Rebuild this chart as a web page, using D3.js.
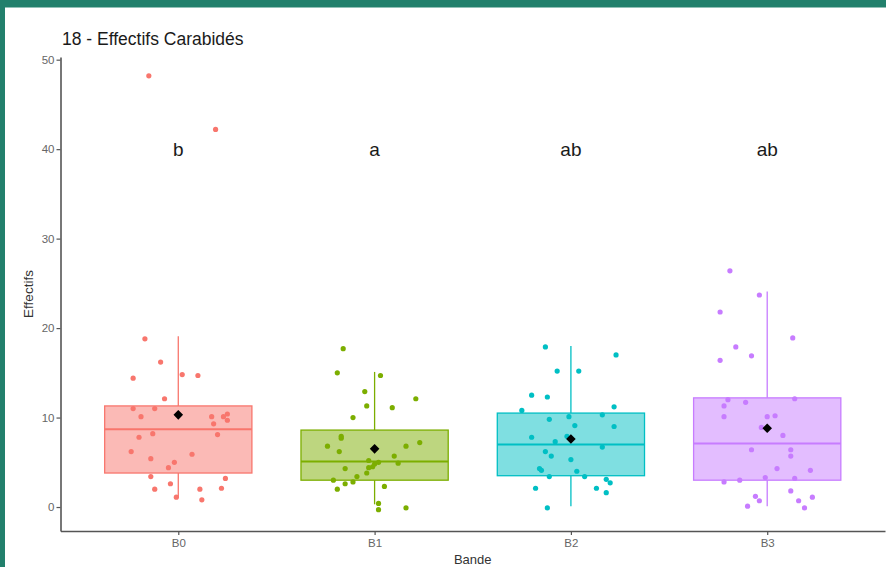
<!DOCTYPE html>
<html>
<head>
<meta charset="utf-8">
<script src="https://cdn.jsdelivr.net/npm/d3@7"></script>
<style>
  html, body { margin: 0; padding: 0; background: #22806c; }
  svg { display: block; }
  text { font-family: "Liberation Sans", Arial, sans-serif; }
</style>
</head>
<body>
<svg id="chart" width="886" height="567"></svg>
<script>
// ---------- DATA ----------
const categories = ["B0", "B1", "B2", "B3"];
const colors = ["#F8766D", "#7CAE00", "#00BFC4", "#C77CFF"];
const letters = ["b", "a", "ab", "ab"];
const letterY = 40;
const q1 = [3.8, 3.0, 3.5, 3.0];
const medians = [8.7, 5.1, 7.0, 7.1];
const q3 = [11.3, 8.6, 10.5, 12.2];
const whiskerLow = [1.0, 0.3, 0.1, 0.1];
const whiskerHigh = [19.1, 15.1, 18.0, 24.1];
const means = [10.3, 6.5, 7.6, 8.8];
const yTicks = [0, 10, 20, 30, 40, 50];
// jittered observations: [jitter offset (category units), value]
const pointsB0 = [[-0.17,18.8],[-0.09,16.2],[-0.23,14.4],[0.02,14.8],[0.10,14.7],[-0.07,12.1],[-0.23,11.0],[-0.12,11.0],[-0.19,10.1],[0.17,10.1],[0.25,10.4],[0.23,10.1],[0.25,9.7],[0.18,9.3],[-0.13,8.2],[-0.20,7.8],[0.20,8.1],[-0.24,6.2],[-0.14,5.4],[0.07,5.9],[-0.02,5.0],[-0.05,4.4],[-0.14,3.4],[0.24,3.2],[-0.04,2.6],[-0.12,2.0],[0.22,2.1],[0.11,2.0],[-0.01,1.1],[0.12,0.8],[-0.15,48.2],[0.19,42.2]];
const pointsB1 = [[-0.16,17.7],[-0.19,15.0],[0.03,14.7],[-0.05,12.9],[0.21,12.1],[-0.04,11.3],[0.09,11.1],[-0.11,10.0],[-0.17,7.9],[-0.17,7.7],[-0.24,6.8],[-0.18,6.2],[0.16,6.8],[0.23,7.2],[0.10,5.7],[-0.03,5.2],[0.02,5.0],[0.00,4.8],[0.12,4.9],[-0.15,4.3],[-0.01,4.5],[-0.03,4.4],[-0.04,3.8],[-0.09,3.4],[-0.21,3.0],[-0.11,2.8],[-0.15,2.6],[-0.19,2.0],[0.05,2.3],[0.02,0.4],[0.02,-0.3],[0.16,-0.1]];
const pointsB2 = [[-0.13,17.9],[0.23,17.0],[-0.07,15.2],[0.04,15.2],[-0.20,12.5],[-0.12,12.3],[-0.25,10.8],[0.22,11.2],[-0.11,9.8],[-0.01,10.1],[0.16,10.3],[0.02,9.1],[0.22,9.0],[-0.20,7.8],[-0.08,7.3],[-0.02,7.9],[0.16,6.7],[-0.13,6.2],[-0.10,5.7],[0.00,5.3],[-0.16,4.3],[-0.15,4.1],[0.03,4.0],[-0.11,3.4],[0.07,3.4],[0.18,3.1],[0.20,2.7],[-0.18,2.1],[0.13,2.1],[0.18,1.6],[-0.12,-0.1]];
const pointsB3 = [[-0.19,26.4],[-0.04,23.7],[-0.24,21.8],[0.13,18.9],[-0.16,17.9],[-0.24,16.4],[-0.08,16.9],[-0.20,12.0],[0.14,12.1],[-0.22,11.3],[-0.11,11.7],[-0.22,10.1],[0.00,10.1],[0.04,10.2],[-0.03,8.9],[0.08,8.0],[-0.08,6.4],[0.12,6.4],[0.12,5.7],[0.05,4.3],[0.22,4.1],[-0.01,3.3],[0.14,3.2],[-0.22,2.8],[-0.14,3.0],[0.12,1.8],[-0.06,1.2],[-0.04,0.7],[0.16,0.7],[0.23,1.1],[-0.10,0.1],[0.19,-0.1]];
const points = [pointsB0, pointsB1, pointsB2, pointsB3];

// ---------- LAYOUT ----------
const svg = d3.select("#chart");
svg.append("rect").attr("x", 5).attr("y", 7.5).attr("width", 881).attr("height", 560).attr("fill", "#ffffff");

const mLeft = 60.5, mRight = 885, mTop = 57, mBottom = 531;
const x = d3.scaleLinear().domain([0.4, categories.length + 0.6]).range([mLeft, mRight]);
const y = d3.scaleLinear().domain([-2.68, 50.3]).range([mBottom, mTop]);
const unit = x(2) - x(1);
const boxW = 0.75 * unit;

// ---------- BOXES ----------
const g = svg.append("g");
categories.forEach((c, i) => {
  const cx = x(i + 1);
  const col = colors[i];
  g.append("line").attr("x1", cx).attr("x2", cx).attr("y1", y(q3[i])).attr("y2", y(whiskerHigh[i]))
    .attr("stroke", col).attr("stroke-width", 1.3);
  g.append("line").attr("x1", cx).attr("x2", cx).attr("y1", y(q1[i])).attr("y2", y(whiskerLow[i]))
    .attr("stroke", col).attr("stroke-width", 1.3);
  g.append("rect").attr("x", cx - boxW / 2).attr("y", y(q3[i]))
    .attr("width", boxW).attr("height", y(q1[i]) - y(q3[i]))
    .attr("fill", col).attr("fill-opacity", 0.5)
    .attr("stroke", col).attr("stroke-width", 1.3);
  g.append("line").attr("x1", cx - boxW / 2).attr("x2", cx + boxW / 2)
    .attr("y1", y(medians[i])).attr("y2", y(medians[i]))
    .attr("stroke", col).attr("stroke-width", 2);
});

// ---------- POINTS ----------
categories.forEach((c, i) => {
  g.selectAll(null).data(points[i]).enter().append("circle")
    .attr("cx", d => x(i + 1 + d[0]))
    .attr("cy", d => y(d[1]))
    .attr("r", 2.6)
    .attr("fill", colors[i]);
});

// ---------- MEANS ----------
const diamond = d3.symbol().type(d3.symbolSquare).size(46);
g.selectAll(null).data(means).enter().append("path")
  .attr("d", diamond)
  .attr("transform", (d, i) => `translate(${x(i + 1)},${y(d)}) rotate(45)`)
  .attr("fill", "#000");

// ---------- LETTERS ----------
g.selectAll(null).data(letters).enter().append("text")
  .attr("x", (d, i) => x(i + 1))
  .attr("y", y(letterY) + 7)
  .attr("text-anchor", "middle")
  .attr("font-size", 19)
  .attr("fill", "#1a1a1a")
  .text(d => d);

// ---------- AXES ----------
const yAxis = d3.axisLeft(y).tickValues(yTicks).tickSize(4).tickSizeOuter(0).tickPadding(2);
const ya = svg.append("g").attr("transform", `translate(${mLeft},0)`).call(yAxis);
const xAxis = d3.axisBottom(x).tickValues(categories.map((c, i) => i + 1))
  .tickFormat((d, i) => categories[i]).tickSize(4).tickSizeOuter(0).tickPadding(4);
const xa = svg.append("g").attr("transform", `translate(0,${mBottom})`).call(xAxis);
[ya, xa].forEach(a => {
  a.select(".domain").attr("stroke", "#555").attr("stroke-width", 1.6);
  a.selectAll(".tick line").attr("stroke", "#555").attr("stroke-width", 1.2);
  a.selectAll(".tick text").attr("fill", "#666").attr("font-size", 11.5)
    .attr("font-family", '"Liberation Sans", Arial, sans-serif');
});

// ---------- LABELS ----------
svg.append("text").attr("x", 62).attr("y", 45).attr("font-size", 17.5).attr("fill", "#1a1a1a")
  .text("18 - Effectifs Carabidés");
svg.append("text").attr("x", (mLeft + mRight) / 2).attr("y", 564).attr("text-anchor", "middle")
  .attr("font-size", 13).attr("fill", "#333").text("Bande");
svg.append("text").attr("transform", `translate(33,${(mTop + mBottom) / 2}) rotate(-90)`)
  .attr("text-anchor", "middle").attr("font-size", 13.5).attr("fill", "#333").text("Effectifs");
</script>
</body>
</html>
